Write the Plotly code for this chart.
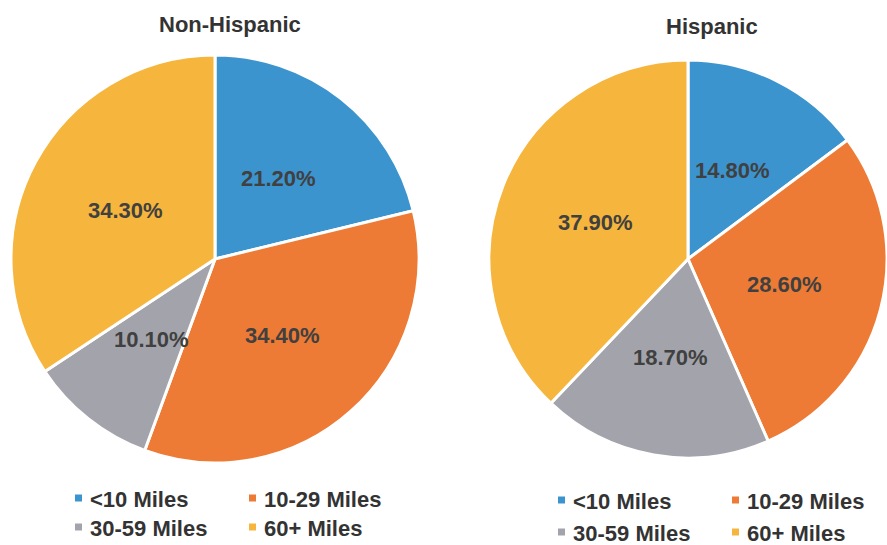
import math
import plotly.graph_objects as go

# ---- data ----
categories = ["<10 Miles", "10-29 Miles", "30-59 Miles", "60+ Miles"]
non_hispanic = [21.2, 34.4, 10.1, 34.3]
hispanic = [14.8, 28.6, 18.7, 37.9]
group_titles = ["Non-Hispanic", "Hispanic"]

# ---- style ----
colors = ["#3C94CF", "#EE7B35", "#A3A4AB", "#F6B53C"]
W, H = 887, 545
FONT = "Liberation Sans, Arial, sans-serif"
TXT = "#404040"


def px(x):
    """window pixel x -> paper coordinate"""
    return x / W


def py(y):
    """window pixel y -> paper coordinate"""
    return 1 - y / H


# pie geometry (window pixels)
pies = [
    dict(values=non_hispanic, title=group_titles[0], x0=11, x1=419, y0=55, y1=463,
         title_xy=(230, 25), leg_x=(75, 249), leg_y=(498, 527)),
    dict(values=hispanic, title=group_titles[1], x0=489, x1=887, y0=56, y1=462,
         title_xy=(712, 26), leg_x=(558, 732), leg_y=(500, 532)),
]

fig = go.Figure()
annotations = []
shapes = []

for p in pies:
    fig.add_trace(go.Pie(
        labels=categories,
        values=p["values"],
        sort=False,
        direction="clockwise",
        rotation=0,
        marker=dict(colors=colors, line=dict(color="white", width=3)),
        textinfo="none",
        hovertemplate="%{label}: %{value:.2f}%<extra></extra>",
        domain=dict(x=[px(p["x0"]), px(p["x1"])], y=[py(p["y1"]), py(p["y0"])]),
        showlegend=False,
    ))
    # geometry as plotly will draw it
    w = p["x1"] - p["x0"]
    h = p["y1"] - p["y0"]
    r = min(w, h) / 2
    cx = (p["x0"] + p["x1"]) / 2
    cy = (p["y0"] + p["y1"]) / 2
    total = sum(p["values"])
    cum = 0.0
    for v in p["values"]:
        mid = (cum + v / 2) / total * 2 * math.pi
        cum += v
        tx = cx + 0.5 * r * math.sin(mid)
        ty = cy - 0.5 * r * math.cos(mid)
        annotations.append(dict(
            x=px(tx), y=py(ty), xref="paper", yref="paper",
            text=f"<b>{v:.2f}%</b>", showarrow=False,
            font=dict(family=FONT, size=22, color=TXT),
            xanchor="center", yanchor="middle",
        ))
    # title
    annotations.append(dict(
        x=px(p["title_xy"][0]), y=py(p["title_xy"][1]), xref="paper", yref="paper",
        text=f"<b>{p['title']}</b>", showarrow=False,
        font=dict(family=FONT, size=22, color="#333333"),
        xanchor="center", yanchor="middle",
    ))
    # custom 2x2 legend
    for i, cat in enumerate(categories):
        col, row = i % 2, i // 2
        sx = p["leg_x"][col]
        sy = p["leg_y"][row]
        shapes.append(dict(
            type="rect", xref="paper", yref="paper",
            x0=px(sx), x1=px(sx + 7), y0=py(sy + 3.5), y1=py(sy - 3.5),
            fillcolor=colors[i], line=dict(width=0),
        ))
        annotations.append(dict(
            x=px(sx + 13), y=py(sy + 1), xref="paper", yref="paper",
            text=f"<b>{cat}</b>", showarrow=False,
            font=dict(family=FONT, size=22, color="#333333"),
            xanchor="left", yanchor="middle",
        ))

fig.update_layout(
    width=W, height=H,
    margin=dict(l=0, r=0, t=0, b=0),
    paper_bgcolor="white",
    plot_bgcolor="white",
    annotations=annotations,
    shapes=shapes,
    showlegend=False,
)

fig.write_html(
    "out.html",
    config={"displayModeBar": False},
    post_script="document.body.style.margin='0';document.body.style.overflow='hidden';",
)
